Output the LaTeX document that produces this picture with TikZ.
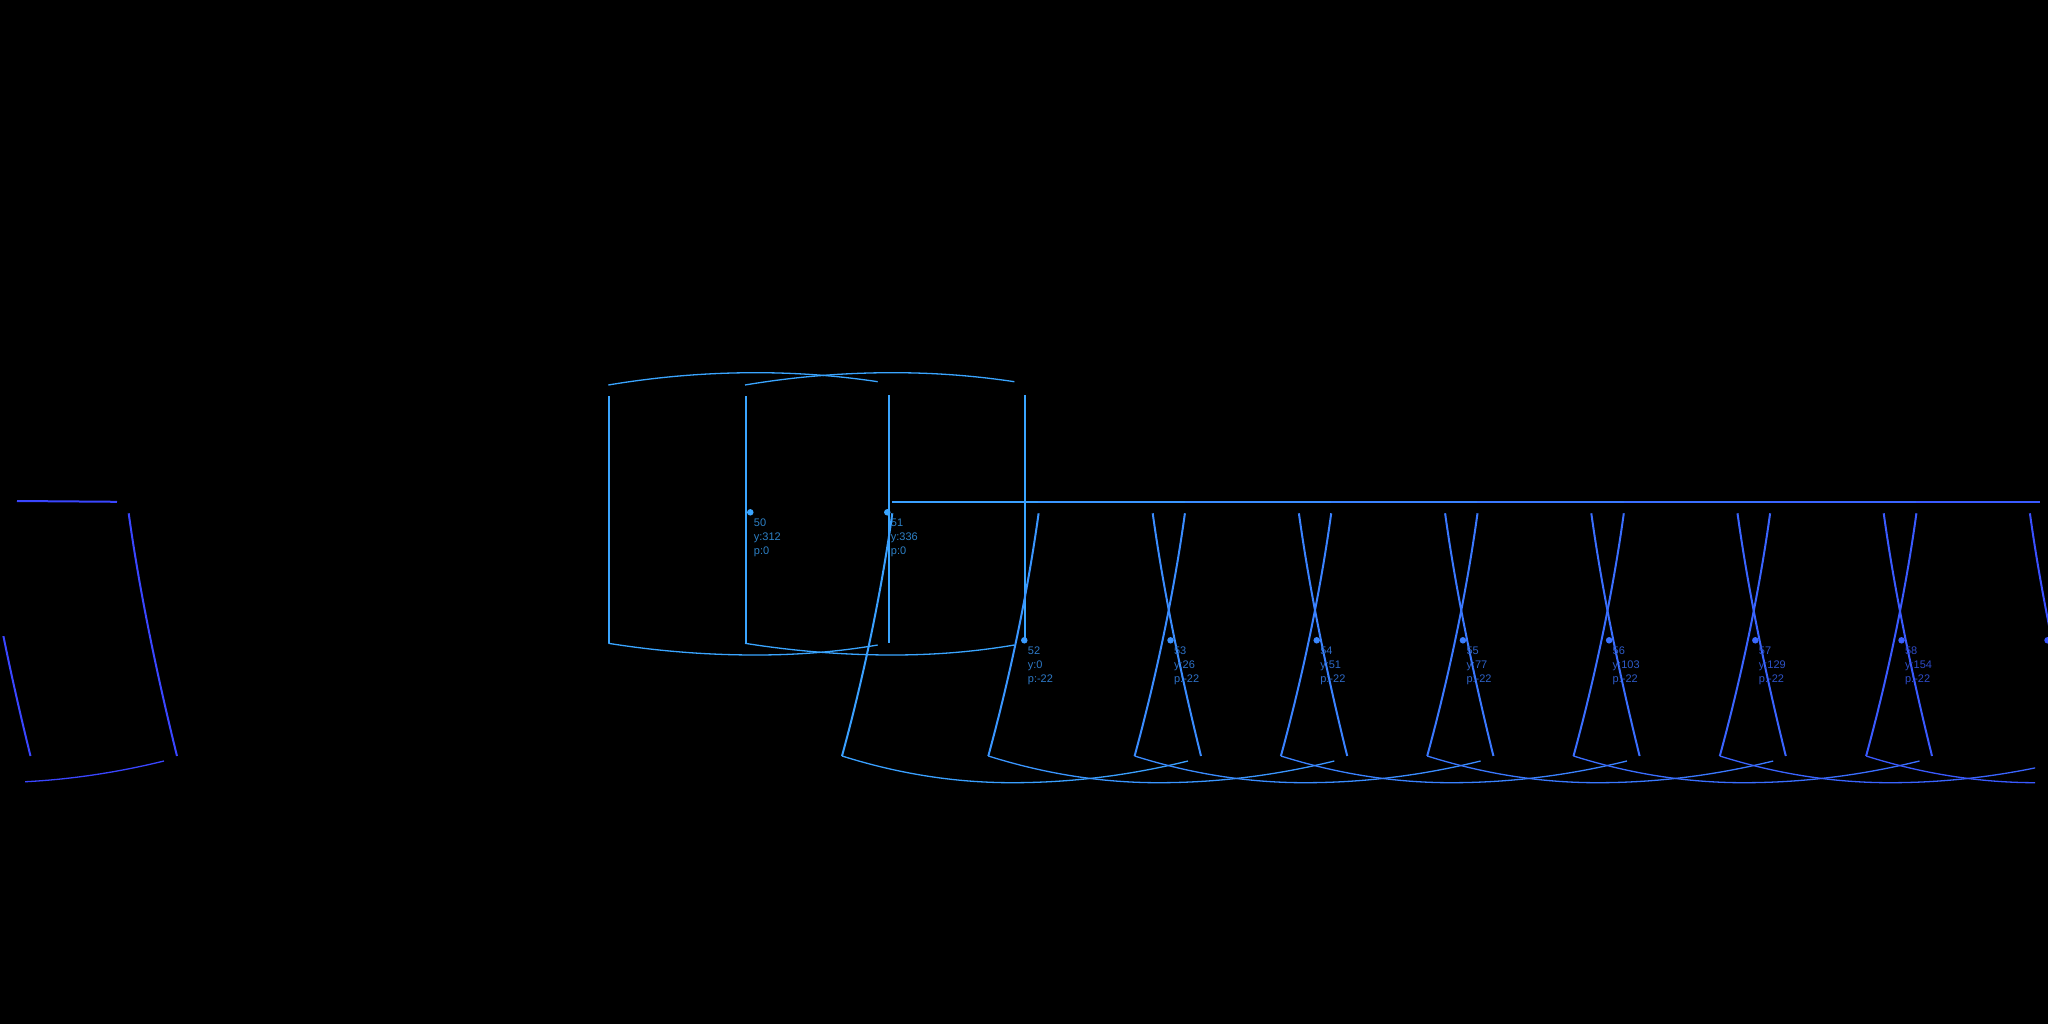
\documentclass[tikz,border=0pt]{standalone}
\usepackage{fontspec}
\setmainfont{Liberation Sans}
\definecolor{capc}{RGB}{58,165,255}
\begin{document}
\begin{tikzpicture}[x=1pt,y=-1pt,
  edge line/.style={line width=2pt},
  cap line/.style={line width=1.3pt},
  dot node/.style={circle,fill,inner sep=0pt,minimum size=6.5pt},
  info node/.style={anchor=north west,inner sep=0pt,align=left,font=\fontsize{11}{14}\selectfont}]
  \useasboundingbox (0,0) rectangle (2048,1024);
  \fill[black] (0,0) rectangle (2048,1024);
  \clip (0,0) rectangle (2048,1024);

  % pitch 0 faces
  \foreach \x in {608.3,745}{
    \draw[cap line,capc] (\x,385) .. controls (\x+49,376.8) and (\x+98,372.7) .. (\x+147.4,372.7)
      .. controls (\x+188,372.7) and (\x+228,375.5) .. (\x+269.4,381.7);
    \draw[cap line,capc] (\x,643.3) .. controls (\x+49,651.1) and (\x+98,655) .. (\x+147.4,655)
      .. controls (\x+188,655) and (\x+228,652) .. (\x+269.4,645);
  }
  \foreach \x/\ytop in {609/396,746/396,889/395,1025/395}
    \draw[edge line,capc] (\x,\ytop) -- (\x,643);

  \node[dot node,capc] (d50) at (750.3,512.3) {};
  \node[dot node,capc] (d51) at (887.3,512.3) {};
  \node[info node,text=capc!78!black] (l50) at (753.7,518.5) {50\\y:312\\p:0};
  \node[info node,text=capc!78!black] (l51) at (890.7,518.5) {51\\y:336\\p:0};

  % horizontal band
  \foreach \k in {0,...,7}{
    \pgfmathtruncatemacro{\g}{160-10*\k}
    \definecolor{cur}{RGB}{58,\g,255}
    \draw[edge line,cur] (892+146.3*\k,501.5) -- ({min(892+146.3*(\k+1),2040)},501.5);
  }
  \definecolor{cur}{RGB}{58,70,255}
  \draw[edge line,cur] (17,501) -- (117,501.8);

  % pitch -22 faces
  \foreach \k in {0,...,7}{
    \pgfmathtruncatemacro{\g}{160-10*\k}
    \definecolor{cur}{RGB}{58,\g,255}
    \pgfmathsetmacro{\xa}{892.3+146.3*\k}
    \draw[edge line,cur] (\xa,513.3) .. controls (\xa-11,593) and (\xa-29,678) .. (\xa-50.3,756);
    \pgfmathsetmacro{\xb}{842+146.3*\k}
    \begin{scope}
      \clip (0,0) rectangle (2035,1024);
      \draw[cap line,cur] (\xb,756) .. controls (\xb+57,773.9) and (\xb+113,782.7) .. (\xb+170,782.7)
        .. controls (\xb+229,782.7) and (\xb+287,775.5) .. (\xb+346,761);
    \end{scope}
  }
  \foreach \k in {0,...,6}{
    \pgfmathtruncatemacro{\g}{140-10*\k}
    \definecolor{cur}{RGB}{58,\g,255}
    \pgfmathsetmacro{\xa}{1152.7+146.2*\k}
    \draw[edge line,cur] (\xa,513.3) .. controls (\xa+11,593) and (\xa+29,678) .. (\xa+48.3,756);
  }

  % wrapped pieces
  \definecolor{cur}{RGB}{58,70,255}
  \draw[edge line,cur] (128.7,513.3) .. controls (139.7,593) and (157.7,678) .. (177,756);
  \begin{scope}
    \clip (0,636) rectangle (60,760);
    \draw[edge line,cur] (-17.8,513.3) .. controls (-6.8,593) and (11.2,678) .. (30.5,756);
  \end{scope}
  \begin{scope}
    \clip (25,700) rectangle (200,800);
    \draw[cap line,cur] (-182,756) .. controls (-125,773.9) and (-69,782.7) .. (-12,782.7)
      .. controls (47,782.7) and (105,775.5) .. (164,761);
  \end{scope}

  % points and their labels
  \foreach \n/\yaw/\k in {52/0/0,53/26/1,54/51/2,55/77/3,56/103/4,57/129/5,58/154/6}{
    \pgfmathtruncatemacro{\g}{155-10*\k}
    \definecolor{cur}{RGB}{58,\g,255}
    \node[dot node,cur] (d\n) at (1024.3+146.2*\k,640.3) {};
    \node[info node,text=cur!78!black] (l\n) at (1027.7+146.2*\k,646.5) {\n\\y:\yaw\\p:-22};
  }
  \definecolor{cur}{RGB}{58,85,255}
  \node[dot node,cur] (d59) at (2047.5,640.3) {};
\end{tikzpicture}
\end{document}
